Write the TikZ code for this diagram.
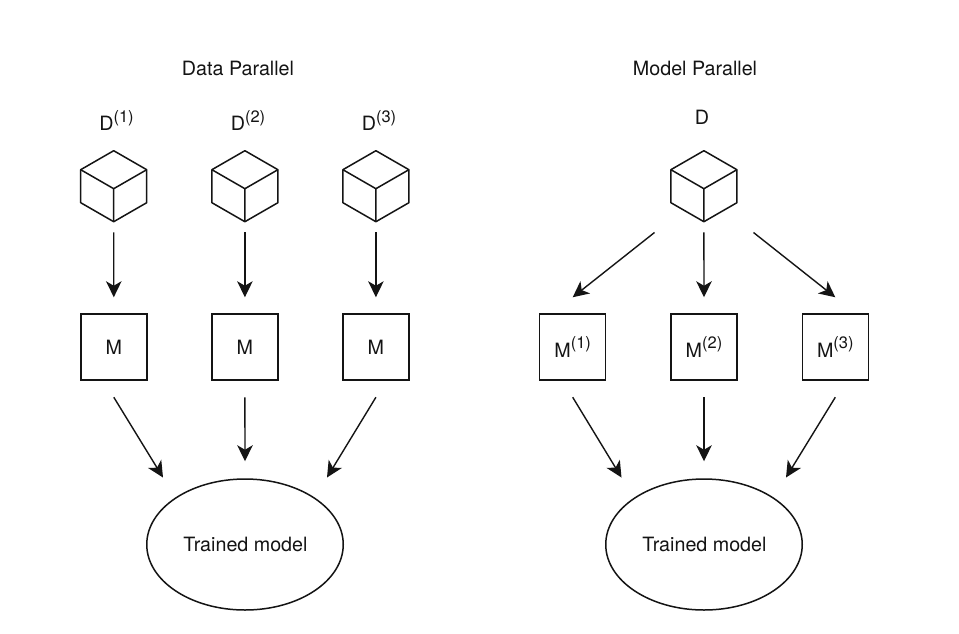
\documentclass[tikz,border=0pt]{standalone}
\usepackage{fontspec}
\setmainfont{TeX Gyre Heros}
\usetikzlibrary{arrows.meta,shapes.geometric}
\newcommand{\supx}[1]{\raisebox{0.45em}{\fontsize{16.5}{16.5}\selectfont(#1)}}
\newcommand{\cubeshape}[1]{%
  \draw[shapeline,line join=round]
    ([shift={(0,-35.5)}]#1.center) -- ([shift={(33,-16.5)}]#1.center) -- ([shift={(33,16.5)}]#1.center)
    -- ([shift={(0,35.5)}]#1.center) -- ([shift={(-33,16.5)}]#1.center) -- ([shift={(-33,-16.5)}]#1.center) -- cycle;
  \draw[shapeline,line join=round]
    ([shift={(-33,-16.5)}]#1.center) -- ([shift={(0,2.5)}]#1.center) -- ([shift={(33,-16.5)}]#1.center)
    ([shift={(0,2.5)}]#1.center) -- ([shift={(0,35.5)}]#1.center);}
\tikzset{
  x=1pt,y=-1pt,
  shapeline/.style={draw=black!92,line width=1.5pt},
  label text/.style={font=\fontsize{19.7}{22}\selectfont,text=black!92,inner sep=0pt,anchor=center},
  cubebox/.style={minimum width=66pt,minimum height=71pt,inner sep=0pt},
  modelbox/.style={shapeline,minimum size=66pt,inner sep=0pt,font=\fontsize{19.7}{22}\selectfont,text=black!92},
  result/.style={shapeline,ellipse,minimum width=196.5pt,minimum height=131pt,inner sep=0pt,font=\fontsize{19.7}{22}\selectfont,text=black!92},
  flow/.style={draw=black!92,line width=1.4pt,-{Stealth[length=16pt,width=15.5pt,inset=4.5pt]}},
}
\begin{document}
\begin{tikzpicture}
\path[use as bounding box,fill=white] (0,0) rectangle (959,633);
% titles
\node[label text] (t1) at (238,68) {Data Parallel};
\node[label text] (t2) at (695,68) {Model Parallel};
% data labels
\node[label text] (d1) at (116.5,120.5) {D\supx{1}};
\node[label text] (d2) at (248,120.5) {D\supx{2}};
\node[label text] (d3) at (379,120.5) {D\supx{3}};
\node[label text] (d) at (702,117) {D};
% cubes
\node[cubebox] (c1) at (113.7,186.2) {};
\node[cubebox] (c2) at (244.9,186.2) {};
\node[cubebox] (c3) at (375.9,186.2) {};
\node[cubebox] (c) at (703.9,186.2) {};
\cubeshape{c1}\cubeshape{c2}\cubeshape{c3}\cubeshape{c}
% model boxes
\node[modelbox] (m1) at (113.8,347) {M};
\node[modelbox] (m2) at (244.9,347) {M};
\node[modelbox] (m3) at (375.9,347) {M};
\node[modelbox] (n1) at (572.7,347) {M\supx{1}};
\node[modelbox] (n2) at (704,347) {M\supx{2}};
\node[modelbox] (n3) at (835.3,347) {M\supx{3}};
% ellipses
\node[result] (e1) at (245,544.5) {\hspace{1pt}Trained model};
\node[result] (e2) at (704,544.5) {\hspace{1pt}Trained model};
% free ends
\coordinate (a1) at (654.5,232.5);
\coordinate (a3) at (753.5,232.5);
\coordinate (b1) at (163,477.5);
\coordinate (b3) at (327,477.5);
\coordinate (f1) at (621.5,477.5);
\coordinate (f3) at (786,477.5);
% connectors
\foreach \p/\q in {c1/m1,c2/m2,c3/m3,c/n2}
  \draw[flow] ([yshift=-10.5pt]\p.south) -- ([yshift=16pt]\q.north);
\draw[flow] (a1) -- ([yshift=16pt]n1.north);
\draw[flow] (a3) -- ([yshift=16pt]n3.north);
\draw[flow] ([yshift=-16.5pt]m1.south) -- (b1);
\draw[flow] ([yshift=-16.5pt]m2.south) -- ([yshift=17pt]e1.north);
\draw[flow] ([yshift=-16.5pt]m3.south) -- (b3);
\draw[flow] ([yshift=-16.5pt]n1.south) -- (f1);
\draw[flow] ([yshift=-16.5pt]n2.south) -- ([yshift=17pt]e2.north);
\draw[flow] ([yshift=-16.5pt]n3.south) -- (f3);
\end{tikzpicture}
\end{document}
